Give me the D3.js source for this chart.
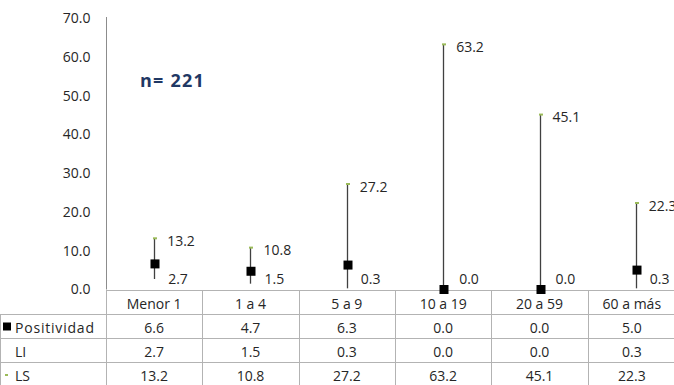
<!DOCTYPE html>
<html>
<head>
<meta charset="utf-8">
<script src="https://cdn.jsdelivr.net/npm/d3@7/dist/d3.min.js"></script>
<style>
  html, body { margin: 0; padding: 0; background: #fff; }
  svg { display: block; font-family: "Open Sans", "Noto Sans", sans-serif; }
</style>
</head>
<body>
<svg id="chart" width="674" height="385"></svg>
<script>
// Age groups and positivity rate with its confidence interval (LI / LS)
const categories = ["Menor 1", "1 a 4", "5 a 9", "10 a 19", "20 a 59", "60 a más"];
const positividad = [6.6, 4.7, 6.3, 0.0, 0.0, 5.0];
const li = [2.7, 1.5, 0.3, 0.0, 0.0, 0.3];
const ls = [13.2, 10.8, 27.2, 63.2, 45.1, 22.3];
const yTicks = [0, 10, 20, 30, 40, 50, 60, 70];
const seriesNames = ["Positividad", "LI", "LS"];
const sampleLabel = "n= 221";

const W = 674, H = 385;
const FS = 14;
const svg = d3.select("#chart");

const plotLeft = 106, plotRight = 684;
const x = d3.scaleBand().domain(categories).range([plotLeft, plotRight]);
const y = d3.scaleLinear().domain([0, 70]).range([289.5, 18]);

const gridColor = "#b3b3b3";
const textColor = "#262626";

// value axis: labels only, with a plain vertical line
const yAxis = d3.axisLeft(y).tickValues(yTicks).tickFormat(d3.format(".1f")).tickSize(0).tickPadding(16);
const gy = svg.append("g").attr("transform", `translate(${plotLeft + 0.5},0)`).call(yAxis);
gy.select(".domain").attr("stroke", "#8c8c8c").attr("d", `M0,${y(70) - 1}V${y(0)}`);
gy.selectAll("text").attr("font-size", FS).attr("fill", textColor).attr("font-family", "Open Sans, sans-serif");

// data table under the plot
const rowH = 24, tableTop = 290;
const rows = [
  { key: seriesNames[0], values: positividad },
  { key: seriesNames[1], values: li },
  { key: seriesNames[2], values: ls }
];
const t = svg.append("g").attr("class", "table");
// horizontal rules
t.append("line").attr("x1", plotLeft).attr("x2", W).attr("y1", tableTop + 0.5).attr("y2", tableTop + 0.5)
  .attr("stroke", gridColor);
rows.forEach((r, i) => {
  const yy = tableTop + rowH * (i + 1) + 0.5;
  t.append("line").attr("x1", 0).attr("x2", W).attr("y1", yy).attr("y2", yy).attr("stroke", gridColor);
});
// vertical rules
const bounds = categories.map(c => x(c)).concat([plotRight]);
bounds.forEach(b => {
  const xx = Math.round(b) + 0.5;
  t.append("line").attr("x1", xx).attr("x2", xx).attr("y1", tableTop).attr("y2", H).attr("stroke", gridColor);
});
t.append("line").attr("x1", 0.5).attr("x2", 0.5).attr("y1", tableTop + rowH).attr("y2", H).attr("stroke", gridColor);

const cellCenter = c => (x(c) + Math.min(x(c) + x.bandwidth(), W + 2)) / 2;
// header row
t.selectAll("text.head").data(categories).join("text")
  .attr("class", "head")
  .attr("x", c => cellCenter(c)).attr("y", tableTop + rowH / 2 + 1)
  .attr("text-anchor", "middle").attr("dominant-baseline", "central")
  .attr("font-size", FS).attr("fill", textColor).text(c => c);
rows.forEach((r, i) => {
  const cy = tableTop + rowH * (i + 1) + rowH / 2 + 1;
  t.selectAll(`text.r${i}`).data(r.values).join("text")
    .attr("class", `r${i}`)
    .attr("x", (v, j) => cellCenter(categories[j])).attr("y", cy)
    .attr("text-anchor", "middle").attr("dominant-baseline", "central")
    .attr("font-size", FS).attr("fill", textColor).text(v => v.toFixed(1));
  const key = t.append("text").attr("x", 15).attr("y", cy)
    .attr("dominant-baseline", "central").attr("font-size", FS).attr("fill", textColor).text(r.key);
  if (i === 0) key.attr("letter-spacing", 0.8);
});
// legend keys inside the table
t.append("rect").attr("x", 3).attr("y", tableTop + rowH + rowH / 2 - 3.5).attr("width", 8).attr("height", 8).attr("fill", "#000");
t.append("rect").attr("x", 5).attr("y", tableTop + rowH * 3 + rowH / 2).attr("width", 3).attr("height", 2).attr("fill", "#9bbb59");

// interval lines from LI to LS
const g = svg.append("g");
const cx = c => x(c) + x.bandwidth() / 2;
g.selectAll("line.ci").data(categories).join("line")
  .attr("class", "ci")
  .attr("x1", c => Math.round(cx(c)) + 0.5).attr("x2", c => Math.round(cx(c)) + 0.5)
  .attr("y1", (c, i) => y(li[i])).attr("y2", (c, i) => y(ls[i]))
  .attr("stroke", "#404040").attr("stroke-width", 1.3);

// LS markers (small green dash)
g.selectAll("rect.ls").data(categories).join("rect")
  .attr("class", "ls")
  .attr("x", c => Math.round(cx(c)) - 1).attr("y", (c, i) => y(ls[i]) - 1)
  .attr("width", 4).attr("height", 2).attr("fill", "#9bbb59");

// positivity markers
g.selectAll("rect.pos").data(categories).join("rect")
  .attr("class", "pos")
  .attr("x", c => Math.round(cx(c)) - 3.5).attr("y", (c, i) => y(positividad[i]) - 4.5)
  .attr("width", 9).attr("height", 9).attr("fill", "#000");

// value labels: LS above, LI near the base
g.selectAll("text.lsl").data(categories).join("text")
  .attr("class", "lsl")
  .attr("x", c => cx(c) + 13).attr("y", (c, i) => y(ls[i]) + 2)
  .attr("dominant-baseline", "central").attr("font-size", FS).attr("fill", textColor)
  .text((c, i) => ls[i].toFixed(1));
g.selectAll("text.lil").data(categories).join("text")
  .attr("class", "lil")
  .attr("x", (c, i) => cx(c) + (li[i] === 0 ? 16 : 14)).attr("y", (c, i) => Math.min(y(li[i]), 278))
  .attr("dominant-baseline", "central").attr("font-size", FS).attr("fill", textColor)
  .text((c, i) => li[i].toFixed(1));

// sample size note
svg.append("text").attr("x", 140).attr("y", 80).attr("dominant-baseline", "central")
  .attr("font-size", 18).attr("font-weight", "bold").attr("letter-spacing", 1.2)
  .attr("fill", "#1f3864").text(sampleLabel);
</script>
</body>
</html>
